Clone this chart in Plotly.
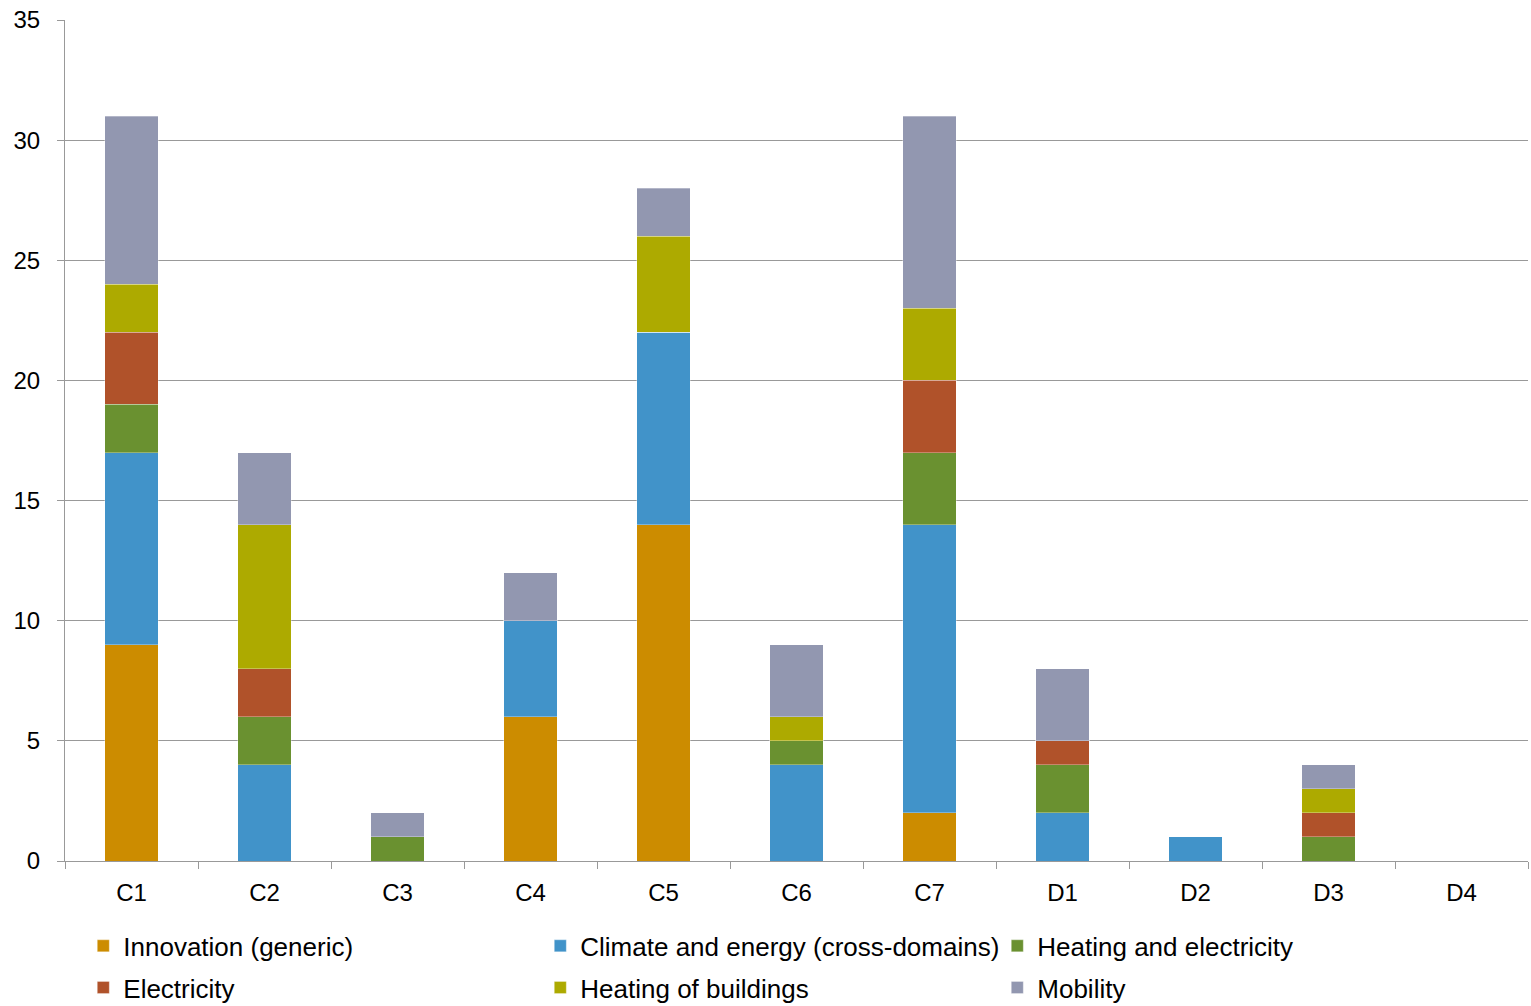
import plotly.graph_objects as go

# Categories along the x axis
categories = ["C1", "C2", "C3", "C4", "C5", "C6", "C7", "D1", "D2", "D3", "D4"]

# Stacked series, bottom to top
innovation = [9, 0, 0, 6, 14, 0, 2, 0, 0, 0, 0]
climate_energy = [8, 4, 0, 4, 8, 4, 12, 2, 1, 0, 0]
heating_electricity = [2, 2, 1, 0, 0, 1, 3, 2, 0, 1, 0]
electricity = [3, 2, 0, 0, 0, 0, 3, 1, 0, 1, 0]
heating_buildings = [2, 6, 0, 0, 4, 1, 3, 0, 0, 1, 0]
mobility = [7, 3, 1, 2, 2, 3, 8, 3, 0, 1, 0]

series = [
    ("Innovation (generic)", innovation, "#CC8C00", "legend"),
    ("Climate and energy (cross-domains)", climate_energy, "#4193C9", "legend"),
    ("Heating and electricity", heating_electricity, "#6A9130", "legend"),
    ("Electricity", electricity, "#B0522A", "legend2"),
    ("Heating of buildings", heating_buildings, "#ADAA00", "legend2"),
    ("Mobility", mobility, "#9297B0", "legend2"),
]

fig = go.Figure()
for name, values, color, leg in series:
    fig.add_trace(go.Bar(
        x=categories, y=values, name=name,
        marker=dict(color=color, line=dict(color="rgba(255,255,255,0.3)", width=1)),
        legend=leg,
    ))

font_family = "Liberation Sans, Arial, sans-serif"
legend_common = dict(
    orientation="h", xanchor="left", yanchor="middle", x=0.0125,
    font=dict(family=font_family, size=26, color="#000000"),
    entrywidthmode="pixels", entrywidth=412,
    traceorder="normal", bgcolor="rgba(0,0,0,0)", itemwidth=30,
)

fig.update_layout(
    barmode="stack",
    bargap=0.6,
    width=1531, height=1006,
    margin=dict(l=65, r=3, t=20, b=145, autoexpand=False),
    paper_bgcolor="white", plot_bgcolor="white",
    font=dict(family=font_family, size=24, color="#000000"),
    legend=dict(**legend_common, y=-0.101),
    legend2=dict(**legend_common, y=-0.1505),
    showlegend=True,
)

fig.update_xaxes(
    type="category",
    showline=True, linecolor="#999999", linewidth=1,
    ticks="outside", tickson="boundaries", ticklen=7, tickcolor="#999999",
    showgrid=False,
    tickfont=dict(family=font_family, size=24, color="#000000"),
    ticklabelstandoff=10,
)
fig.update_yaxes(
    range=[0, 35], dtick=5, tick0=0,
    showline=True, linecolor="#999999", linewidth=1,
    ticks="outside", ticklen=7, tickcolor="#999999",
    showgrid=True, gridcolor="#999999", gridwidth=1,
    zeroline=False,
    tickfont=dict(family=font_family, size=24, color="#000000"),
    ticklabelstandoff=12,
)

fig.write_html("out.html")
